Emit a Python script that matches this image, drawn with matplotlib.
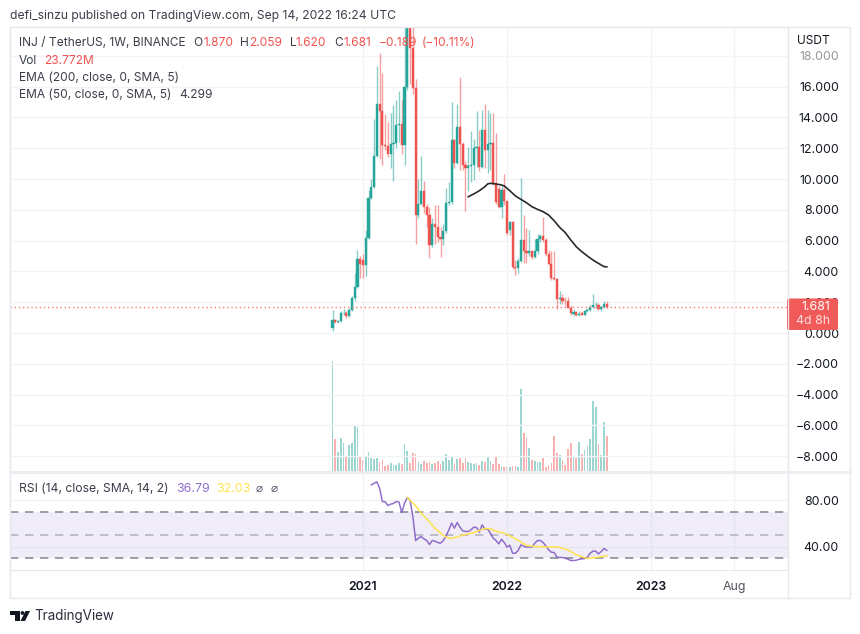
import matplotlib
matplotlib.use('Agg')
import matplotlib.pyplot as plt
from matplotlib.patches import FancyBboxPatch, Polygon, Circle, Rectangle

plt.rcParams['font.family'] = ['Inter', 'DejaVu Sans']

W, H = 860, 634
GREEN = '#26a69a'
RED = '#ef5350'
GRID = '#f2f3f7'
BORDER = '#e6e8ee'
TEXT = '#3b3f4a'

# weekly candles, week 0 = Oct 19 2020
opens = [.30, .84, .70, .75, 1.27, 1.30, 1.10, 1.50, 2.30, 3.00,
         4.80, 4.75, 4.41, 6.15, 8.75, 9.45, 11.50, 14.90, 14.40, 12.20,
         12.15, 11.60, 12.30, 12.35, 13.50, 13.55, 12.20, 16.00, 21.50, 18.50,
         15.90, 7.65, 8.40, 9.20, 8.20, 7.65, 5.70, 7.10, 6.90, 6.25,
         6.10, 6.60, 8.45, 8.50, 12.55, 11.05, 13.40, 12.25, 10.90, 10.70,
         10.85, 10.90, 12.00, 12.05, 10.80, 13.20, 11.90, 12.30, 12.35, 9.70,
         9.35, 8.20, 9.30, 8.55, 6.70, 7.20, 4.30, 4.20, 4.70, 6.05,
         5.30, 5.20, 5.30, 4.95, 5.30, 6.10, 6.30, 6.05, 5.10, 4.50,
         3.55, 3.50, 2.20, 2.25, 2.10, 2.05, 1.65, 1.25, 1.35, 1.17,
         1.28, 1.20, 1.40, 1.50, 1.67, 1.80, 1.80, 1.58, 1.67, 1.870]
highs = [1.50, .90, .85, 1.40, 1.55, 1.45, 1.60, 2.40, 3.90, 5.40,
         5.00, 5.10, 6.70, 9.30, 10.00, 13.90, 17.35, 18.20, 16.90, 14.20,
         13.70, 14.30, 14.80, 15.10, 15.70, 15.10, 19.90, 24.00, 24.50, 19.90,
         16.50, 10.00, 11.50, 9.90, 8.35, 8.20, 7.50, 8.30, 8.30, 6.90,
         7.10, 9.40, 9.80, 15.00, 12.60, 14.90, 16.65, 12.40, 11.20, 12.05,
         13.10, 12.60, 14.40, 13.20, 14.45, 14.90, 14.50, 14.30, 14.30, 13.00,
         9.55, 9.60, 10.30, 8.60, 7.25, 7.25, 4.75, 4.85, 10.05, 7.65,
         6.80, 6.70, 5.40, 6.10, 6.45, 6.45, 7.55, 6.15, 5.40, 5.30,
         5.30, 3.60, 2.70, 2.55, 2.35, 2.35, 1.80, 1.55, 1.40, 1.45,
         1.40, 1.50, 1.60, 1.80, 2.55, 2.00, 1.95, 1.75, 2.05, 2.059]
lows = [.15, .65, .65, .70, 1.15, 1.00, 1.05, 1.40, 2.10, 2.95,
        3.60, 3.60, 3.70, 6.10, 8.70, 9.40, 11.40, 11.30, 10.90, 11.90,
        11.45, 10.70, 9.90, 12.00, 12.40, 11.60, 10.90, 15.80, 16.20, 15.50,
        5.80, 7.50, 8.30, 7.80, 6.90, 4.90, 5.60, 5.80, 5.90, 4.95,
        5.70, 6.50, 8.30, 8.40, 10.70, 11.00, 10.60, 10.60, 7.90, 9.20,
        9.80, 9.95, 10.80, 10.50, 10.70, 10.70, 10.40, 10.60, 9.60, 8.40,
        8.10, 7.45, 8.30, 6.35, 6.35, 4.15, 3.75, 3.90, 4.60, 4.55,
        4.55, 5.00, 4.80, 4.90, 5.15, 5.90, 5.90, 5.00, 4.40, 3.45,
        3.45, 1.55, 1.90, 1.90, 1.85, 1.60, 1.15, 1.10, 1.10, 1.10,
        1.15, 1.15, 1.35, 1.45, 1.60, 1.65, 1.50, 1.45, 1.60, 1.620]
closes = [.84, .70, .75, 1.27, 1.30, 1.10, 1.50, 2.30, 3.00, 4.80,
          4.45, 4.41, 6.15, 8.75, 9.45, 11.50, 14.90, 14.40, 12.20, 12.15,
          11.60, 12.30, 12.35, 13.50, 13.55, 12.20, 16.00, 21.50, 18.50, 15.90,
          7.65, 8.40, 9.20, 8.20, 7.65, 5.70, 7.10, 6.90, 6.25, 6.10,
          6.60, 8.45, 8.50, 12.55, 11.05, 13.40, 12.25, 10.90, 10.70, 10.85,
          10.90, 12.00, 12.05, 10.80, 13.20, 11.90, 12.30, 12.35, 9.70, 8.50,
          8.20, 9.30, 8.55, 6.50, 7.20, 4.30, 4.20, 4.70, 6.05, 5.30,
          5.20, 5.30, 4.95, 5.30, 6.10, 6.30, 6.05, 5.10, 4.50, 3.55,
          3.50, 2.20, 2.25, 2.10, 2.05, 1.65, 1.30, 1.35, 1.17, 1.25,
          1.20, 1.40, 1.50, 1.67, 1.80, 1.82, 1.58, 1.67, 1.87, 1.681]

# volume in millions
volumes = [74.9, 21.7, 12.7, 22.6, 18.8, 10.2, 17.7, 19.2, 30.8, 29.9,
           10.0, 7.7, 10.2, 12.7, 8.8, 8.2, 8.6, 6.1, 7.2, 3.4,
           3.8, 5.2, 4.1, 4.1, 5.2, 4.5, 18.6, 13.4, 5.4, 12.0,
           11.3, 5.9, 5.0, 6.6, 5.7, 5.9, 4.5, 5.4, 6.6, 5.0,
           6.6, 11.8, 7.2, 10.0, 4.8, 8.2, 8.8, 5.7, 8.8, 5.9,
           5.2, 5.0, 5.4, 3.8, 6.8, 6.1, 9.3, 6.8, 4.8, 10.2,
           4.5, 2.5, 2.5, 2.5, 2.7, 3.4, 3.4, 2.9, 55.5, 25.8,
           22.4, 15.8, 7.5, 6.6, 6.1, 5.9, 8.8, 2.9, 3.8, 5.4,
           23.5, 12.2, 10.6, 7.2, 3.8, 15.2, 19.0, 9.3, 8.8, 19.5,
           11.8, 14.5, 16.8, 21.5, 47.5, 43.7, 18.1, 10.6, 33.5, 23.772]

ema_weeks = [49, 51, 53, 55, 56, 57, 59, 61, 62, 64, 66, 68, 70, 72, 74, 76, 78,
             80, 82, 84, 86, 88, 90, 92, 94, 96, 98, 99]
ema50 = [8.85, 9.03, 9.24, 9.50, 9.68, 9.72, 9.68, 9.61, 9.55, 9.24, 8.90, 8.68,
         8.46, 8.20, 8.03, 7.88, 7.66, 7.29, 6.86, 6.52, 6.04, 5.60, 5.28, 5.00,
         4.74, 4.52, 4.31, 4.299]

rsi_first_week = 14
rsi = [93.4, 94.6, 96.0, 90.5, 79.0, 78.7, 75.5, 76.7, 77.3, 79.0,
       78.4, 69.5, 77.6, 82.4, 79.9, 66.0, 45.3, 47.3, 48.7, 46.7,
       45.3, 41.8, 45.3, 44.7, 43.5, 43.0, 45.3, 49.3, 54.5, 60.3,
       55.9, 60.8, 56.8, 53.6, 53.1, 53.1, 54.5, 56.8, 56.5, 52.5,
       58.8, 55.1, 55.1, 51.6, 47.3, 45.3, 42.4, 46.4, 43.5, 39.5,
       41.2, 34.3, 34.3, 36.6, 41.5, 40.4, 39.5, 39.8, 39.5, 43.0,
       45.3, 45.3, 43.5, 40.7, 37.2, 35.2, 34.9, 30.9, 30.6, 30.6,
       30.0, 29.1, 28.0, 28.0, 28.3, 29.1, 29.4, 29.7, 30.9, 34.3,
       36.1, 36.1, 33.7, 35.8, 38.4, 36.79]
rsi_ma_weeks = [27, 30, 32, 34, 37, 40, 42, 43, 47, 51, 55, 57, 59, 63, 67, 70,
                73, 77, 81, 85, 88, 92, 96, 99]
rsi_ma = [82.4, 75.2, 68.9, 64.0, 55.9, 49.6, 47.3, 47.0, 49.9, 52.2, 55.6, 55.4,
          53.3, 50.7, 45.3, 41.0, 40.1, 39.8, 39.8, 37.2, 32.9, 29.7, 30.9, 32.03]

price_ticks = [-8, -6, -4, -2, 0, 2, 4, 6, 8, 10, 12, 14, 16, 18]
time_ticks = [11, 63, 115, 145]
time_labels = ['2021', '2022', '2023', 'Aug']
last_price = 1.681


def panel(left, top, right, bottom):
    return fig.add_axes([left / W, 1 - bottom / H, (right - left) / W, (bottom - top) / H])


fig = plt.figure(figsize=(W / 100, H / 100), dpi=100, facecolor='white')

# main price pane
ax = panel(10, 27, 788, 471)
vax = ax.twinx()  # volume overlay, twinx moves ax ticks left so set them after
ax.set_xlim(-116.4, 164.4)
ax.set_ylim(-8.96, 19.87)
ax.set_axisbelow(True)
ax.grid(color=GRID, lw=1)
ax.set_xticks(time_ticks)
ax.set_yticks(price_ticks)
ax.set_yticklabels([f'{p:.3f}'.replace('-', '\u2212') for p in price_ticks])
ax.yaxis.tick_right()
ax.tick_params(axis='x', length=0, labelbottom=False)
ax.tick_params(axis='y', length=0, pad=36.7, labelsize=8.9, labelcolor='#131722')
for lab in ax.get_yticklabels():
    lab.set_ha('right')
ax.get_yticklabels()[-1].set_alpha(0.45)
for s in ax.spines.values():
    s.set_color(BORDER)

vax.set_ylim(0, 301.6)
vax.axis('off')
weeks = list(range(len(closes)))
colors = [GREEN if c >= o else RED for o, c in zip(opens, closes)]
vax.bar(weeks, volumes, width=0.62, color=colors, alpha=0.45, lw=0)

# candles
ax.vlines(weeks, lows, highs, colors=colors, lw=1.0, alpha=0.55, zorder=3)
ax.bar(weeks, [abs(c - o) for o, c in zip(opens, closes)],
       bottom=[min(o, c) for o, c in zip(opens, closes)],
       width=0.78, color=colors, edgecolor=colors, lw=0.3, zorder=4)
ax.plot(ema_weeks, ema50, color='#2a2a2a', lw=1.2, zorder=5)
ax.axhline(last_price, color='#f47a78', lw=1, ls=(0, (1, 2)), zorder=5)
ax.set_zorder(vax.get_zorder() + 1)
ax.patch.set_visible(False)

# RSI pane
rax = panel(10, 473, 788, 570)
rax.set_xlim(-116.4, 164.4)
rax.set_ylim(19.8, 103.6)
rax.set_axisbelow(True)
rax.grid(color=GRID, lw=1)
rax.set_xticks(time_ticks)
rax.set_xticklabels(time_labels)
rax.set_yticks([40, 80])
rax.set_yticklabels(['40.00', '80.00'])
rax.yaxis.tick_right()
rax.tick_params(axis='x', length=0, pad=8, labelsize=8.9, labelcolor='#131722')
rax.tick_params(axis='y', length=0, pad=36.7, labelsize=8.9, labelcolor='#131722')
for lab in rax.get_yticklabels():
    lab.set_ha('right')
for lab in rax.get_xticklabels()[:3]:
    lab.set_fontweight('semibold')
rax.get_xticklabels()[3].set_color('#50535e')
for s in rax.spines.values():
    s.set_color(BORDER)
rax.axhspan(30, 70, color='#7e57c2', alpha=0.1, lw=0)
for level in [30, 50, 70]:
    rax.axhline(level, color='#787b86', lw=1.2, ls=(0, (5, 4)), alpha=0.85 if level != 50 else 0.5)
rax.plot(range(rsi_first_week, rsi_first_week + len(rsi)), rsi, color='#7e57c2', lw=1.1, alpha=0.85)
rax.plot(rsi_ma_weeks, rsi_ma, color='#ffe34d', lw=1.1)

# page overlay in pixel coordinates, for header, price tag and logo
pg = fig.add_axes([0, 0, 1, 1], zorder=10)
pg.set_xlim(0, W)
pg.set_ylim(H, 0)
pg.axis('off')
pg.add_patch(Rectangle((10, 27), 840, 571, fc='none', ec=BORDER, lw=1))
pg.plot([788, 788], [27, 598], color=BORDER, lw=1)
pg.plot([10, 850], [472, 472], color='#eceef3', lw=2)


def label(x, y, s, color=TEXT, size=8.6, **kw):
    pg.text(x, y, s, color=color, fontsize=size, va='center', ha=kw.pop('ha', 'left'), **kw)


label(10, 16, 'defi_sinzu published on TradingView.com, Sep 14, 2022 16:24 UTC', size=8.75)
label(19, 43.5, 'INJ / TetherUS, 1W, BINANCE')
for x, s in [(193, 'O'), (240, 'H'), (290, 'L'), (334, 'C')]:
    label(x, 43.5, s)
for x, s in [(203, '1.870'), (249, '2.059'), (296, '1.620'), (343, '1.681'),
             (379, '\u22120.189'), (422, '(\u221210.11%)')]:
    label(x, 43.5, s, color=RED)
label(19, 61, 'Vol')
label(44, 61, '23.772M', color=RED)
label(19, 78, 'EMA (200, close, 0, SMA, 5)')
label(19, 95, 'EMA (50, close, 0, SMA, 5)')
label(179, 95, '4.299')
label(19, 489, 'RSI (14, close, SMA, 14, 2)', size=8.75)
label(176.5, 489, '36.79', color='#8f6fd0', size=8.9)
label(216, 489, '32.03', color='#ffe34d', size=8.9)
label(256, 489, '\u2300', color='#55586a')
label(271, 489, '\u2300', color='#55586a')
label(797, 41, 'USDT', color='#131722')

pg.add_patch(FancyBboxPatch((787, 298.5), 51, 31.5, boxstyle='round,pad=0,rounding_size=2',
                            fc='#f05a58', ec='none'))
label(830, 307.5, '1.681', color='white', ha='right', size=8.9)
label(830, 321.5, '4d 8h', color='#fbdedd', ha='right', size=8.9)

# TradingView logo
pg.add_patch(Polygon([(10, 611), (20, 611), (20, 621), (15, 621), (15, 615), (10, 615)], fc='#131722'))
pg.add_patch(Circle((22.5, 613), 1.9, fc='#131722'))
pg.add_patch(Polygon([(25.5, 611), (30, 611), (25, 621), (20.5, 621)], fc='#131722'))
label(34, 616, 'TradingView', color='#2a2e39', size=9.7)

fig.savefig('out.png', dpi=100)
